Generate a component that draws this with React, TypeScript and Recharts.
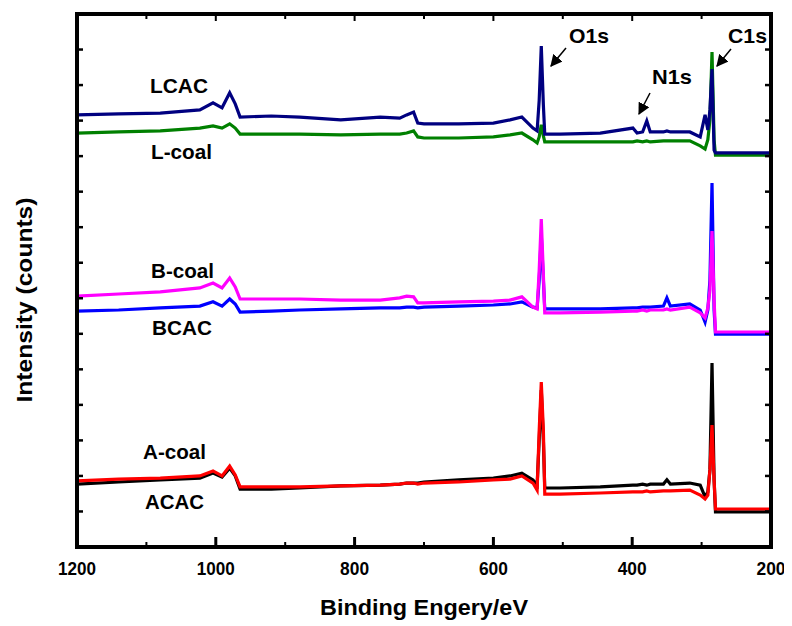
import { LineChart, Line, XAxis, YAxis } from "recharts";

// binding energy grid (eV)
const energy = [
  1200, 1140, 1080, 1023, 1004, 991, 980, 972, 965, 920, 879, 820, 763, 735, 725, 715,
  709, 700, 650, 600, 576, 559, 543, 537, 534, 531, 528, 526, 504, 446, 399, 393, 385,
  379, 374, 355, 350, 345, 317, 302, 295, 291, 288, 285, 282, 280, 250, 200,
];

const lcac = [
  12.16, 12.19, 12.21, 12.3, 12.5, 12.36, 12.78, 12.47, 12.1, 12.13, 12.1, 12.02, 12.1, 12.07, 12.16, 12.24,
  11.93, 11.91, 11.91, 11.93, 12.02, 12.1, 11.79, 11.71, 12.58, 14.1, 12.44, 11.62, 11.62, 11.65, 11.79, 11.65, 11.68,
  11.99, 11.68, 11.68, 11.71, 11.68, 11.68, 11.54, 12.16, 11.74, 12.3, 13.45, 11.17, 11.09, 11.09, 11.09,
];
const lCoal = [
  11.65, 11.68, 11.71, 11.79, 11.85, 11.79, 11.91, 11.79, 11.62, 11.62, 11.62, 11.6, 11.62, 11.62, 11.65, 11.71,
  11.54, 11.51, 11.51, 11.54, 11.6, 11.65, 11.46, 11.37, 11.54, 11.88, 11.57, 11.4, 11.4, 11.4, 11.4, 11.43, 11.4,
  11.43, 11.4, 11.43, 11.43, 11.43, 11.43, 11.29, 11.2, 11.46, 12.02, 13.93, 11.46, 11.03, 11.03, 11.03,
];
const bCoal = [
  7.06, 7.12, 7.18, 7.29, 7.43, 7.29, 7.57, 7.32, 6.98, 6.98, 6.98, 6.95, 6.95, 7.01, 7.06, 7.04,
  6.87, 6.87, 6.9, 6.92, 6.95, 7.04, 6.75, 6.7, 7.8, 9.23, 7.66, 6.59, 6.59, 6.61, 6.64, 6.64, 6.67,
  6.64, 6.67, 6.67, 6.7, 6.67, 6.75, 6.59, 6.45, 6.73, 7.23, 8.89, 6.95, 6.05, 6.05, 6.05,
];
const bcac = [
  6.64, 6.67, 6.73, 6.78, 6.9, 6.78, 6.98, 6.84, 6.61, 6.64, 6.67, 6.7, 6.73, 6.73, 6.75, 6.75,
  6.73, 6.75, 6.78, 6.81, 6.84, 6.9, 6.75, 6.73, 7.51, 8.78, 7.51, 6.7, 6.7, 6.7, 6.73, 6.73, 6.75,
  6.75, 6.75, 6.78, 7.01, 6.78, 6.84, 6.67, 6.33, 6.67, 7.51, 10.24, 6.67, 5.99, 5.99, 5.99,
];
const aCoal = [
  1.77, 1.83, 1.89, 1.94, 2.08, 1.97, 2.22, 2.0, 1.63, 1.63, 1.66, 1.72, 1.74, 1.77, 1.8, 1.8,
  1.8, 1.83, 1.89, 1.94, 2.0, 2.08, 1.89, 1.74, 3.01, 4.42, 3.01, 1.66, 1.66, 1.69, 1.74, 1.74, 1.77,
  1.74, 1.77, 1.77, 1.89, 1.77, 1.8, 1.74, 1.41, 1.55, 2.17, 5.18, 1.89, 0.99, 0.99, 0.99,
];
const acac = [
  1.86, 1.91, 1.94, 2.0, 2.14, 2.0, 2.28, 2.03, 1.69, 1.69, 1.69, 1.72, 1.74, 1.77, 1.8, 1.8,
  1.77, 1.8, 1.83, 1.89, 1.91, 2.0, 1.8, 1.6, 3.29, 4.64, 3.29, 1.49, 1.49, 1.52, 1.55, 1.55, 1.55,
  1.58, 1.55, 1.58, 1.58, 1.58, 1.6, 1.46, 1.35, 1.46, 2.17, 3.43, 1.89, 1.07, 1.07, 1.07,
];

const xTicks = [200, 300, 400, 500, 600, 700, 800, 900, 1000, 1100, 1200];
const yTicks = [1, 2, 3, 4, 5, 6, 7, 8, 9, 10, 11, 12, 13, 14];
const X_DOMAIN = [200, 1200];
const Y_DOMAIN = [0, 15];

const rows = energy.map((e, i) => ({
  e,
  lcac: lcac[i],
  lCoal: lCoal[i],
  bCoal: bCoal[i],
  bcac: bcac[i],
  aCoal: aCoal[i],
  acac: acac[i],
}));

const FONT = "'Liberation Sans', Arial, sans-serif";

// chart layout
const W = 784;
const H = 618;
const M = { top: 6, right: 21, left: 29, bottom: 39 };
const Y_AXIS_W = 40;
const X_AXIS_H = 40;
const X0 = M.left + Y_AXIS_W;
const Y0 = M.top;
const PLOT_W = W - M.left - M.right - Y_AXIS_W;
const PLOT_H = H - M.top - M.bottom - X_AXIS_H;

// frame tick positions (axis reversed: 1200 on the left)
const tickX = (v: number) => X0 + ((X_DOMAIN[1] - v) / (X_DOMAIN[1] - X_DOMAIN[0])) * PLOT_W;
const tickY = (v: number) => Y0 + ((Y_DOMAIN[1] - v) / (Y_DOMAIN[1] - Y_DOMAIN[0])) * PLOT_H;

const BottomLabel = ({ x, y, payload }: any) => {
  const v = payload.value;
  if (v % 200 !== 0) return <g />;
  return (
    <text
      x={x}
      y={y + 28}
      textAnchor="middle"
      fontFamily={FONT}
      fontWeight="bold"
      fontSize={18}
      textLength={String(v).length === 4 ? 38 : 29}
      lengthAdjust="spacingAndGlyphs"
      fill="#000"
    >
      {v}
    </text>
  );
};

const Label = ({ x, y, w, children }: any) => (
  <text
    x={x}
    y={y}
    fontFamily={FONT}
    fontWeight="bold"
    fontSize={21}
    textLength={w}
    lengthAdjust="spacingAndGlyphs"
    fill="#000"
  >
    {children}
  </text>
);

const series = [
  { key: "lCoal", color: "#008000" },
  { key: "lcac", color: "#000080" },
  { key: "bcac", color: "#0000ff" },
  { key: "bCoal", color: "#ff00ff" },
  { key: "aCoal", color: "#000000" },
  { key: "acac", color: "#ff0000" },
];

export default function App() {
  return (
    <div style={{ position: "relative", width: W, height: H }}>
      <LineChart width={W} height={H} data={rows} margin={M}>
        <XAxis
          dataKey="e"
          type="number"
          domain={X_DOMAIN}
          reversed
          ticks={xTicks}
          height={X_AXIS_H}
          tickSize={0}
          tickMargin={0}
          tickLine={false}
          axisLine={{ stroke: "#000", strokeWidth: 4 }}
          tick={(p: any) => <BottomLabel {...p} />}
        />
        <YAxis
          type="number"
          domain={Y_DOMAIN}
          ticks={yTicks}
          width={Y_AXIS_W}
          tickLine={false}
          tick={false}
          axisLine={{ stroke: "#000", strokeWidth: 4 }}
        />
        {series.map((s) => (
          <Line
            key={s.key}
            dataKey={s.key}
            stroke={s.color}
            strokeWidth={3.2}
            dot={false}
            isAnimationActive={false}
          />
        ))}
      </LineChart>
      <svg
        width={W}
        height={H}
        style={{ position: "absolute", left: 0, top: 0, pointerEvents: "none" }}
      >
        <defs>
          <marker id="head" viewBox="0 0 10 10" refX="9" refY="5" markerWidth="8" markerHeight="8" orient="auto">
            <path d="M0,0 L10,5 L0,10 z" fill="#000" />
          </marker>
        </defs>
        {/* plot frame with inward ticks on all four sides */}
        <rect x={X0} y={Y0} width={PLOT_W} height={PLOT_H} fill="none" stroke="#000" strokeWidth={4} />
        {xTicks.map((v) => {
          const x = tickX(v);
          const major = v % 200 === 0;
          return (
            <g key={"x" + v}>
              <line x1={x} x2={x} y1={Y0 + PLOT_H} y2={Y0 + PLOT_H - (major ? 10 : 5)} stroke="#000" strokeWidth={major ? 3 : 2} />
              <line x1={x} x2={x} y1={Y0} y2={Y0 + (major ? 7 : 5)} stroke="#000" strokeWidth={2} />
            </g>
          );
        })}
        {yTicks.map((v) => {
          const y = tickY(v);
          return (
            <g key={"y" + v}>
              <line x1={X0} x2={X0 + 6} y1={y} y2={y} stroke="#000" strokeWidth={2.5} />
              <line x1={X0 + PLOT_W} x2={X0 + PLOT_W - 6} y1={y} y2={y} stroke="#000" strokeWidth={2.5} />
            </g>
          );
        })}
        <Label x={142} y={85} w={58}>LCAC</Label>
        <Label x={143} y={151} w={61}>L-coal</Label>
        <Label x={143} y={270} w={63}>B-coal</Label>
        <Label x={144} y={327} w={60}>BCAC</Label>
        <Label x={135} y={451} w={63}>A-coal</Label>
        <Label x={137} y={501} w={59}>ACAC</Label>
        <Label x={561} y={35} w={40}>O1s</Label>
        <Label x={644} y={76} w={40}>N1s</Label>
        <Label x={720} y={35} w={39}>C1s</Label>
        <line x1={558} y1={40} x2={543} y2={58} stroke="#000" strokeWidth={1.5} markerEnd="url(#head)" />
        <line x1={642} y1={85} x2={631} y2={106} stroke="#000" strokeWidth={1.5} markerEnd="url(#head)" />
        <line x1={723} y1={41} x2={709} y2={58} stroke="#000" strokeWidth={1.5} markerEnd="url(#head)" />
        <text
          x={416}
          y={607}
          textAnchor="middle"
          fontFamily={FONT}
          fontWeight="bold"
          fontSize={22}
          textLength={208}
          lengthAdjust="spacingAndGlyphs"
        >
          Binding Engery/eV
        </text>
        <text
          x={24}
          y={292}
          textAnchor="middle"
          transform="rotate(-90 24 292)"
          fontFamily={FONT}
          fontWeight="bold"
          fontSize={22}
          textLength={205}
          lengthAdjust="spacingAndGlyphs"
        >
          Intensity (counts)
        </text>
      </svg>
    </div>
  );
}
